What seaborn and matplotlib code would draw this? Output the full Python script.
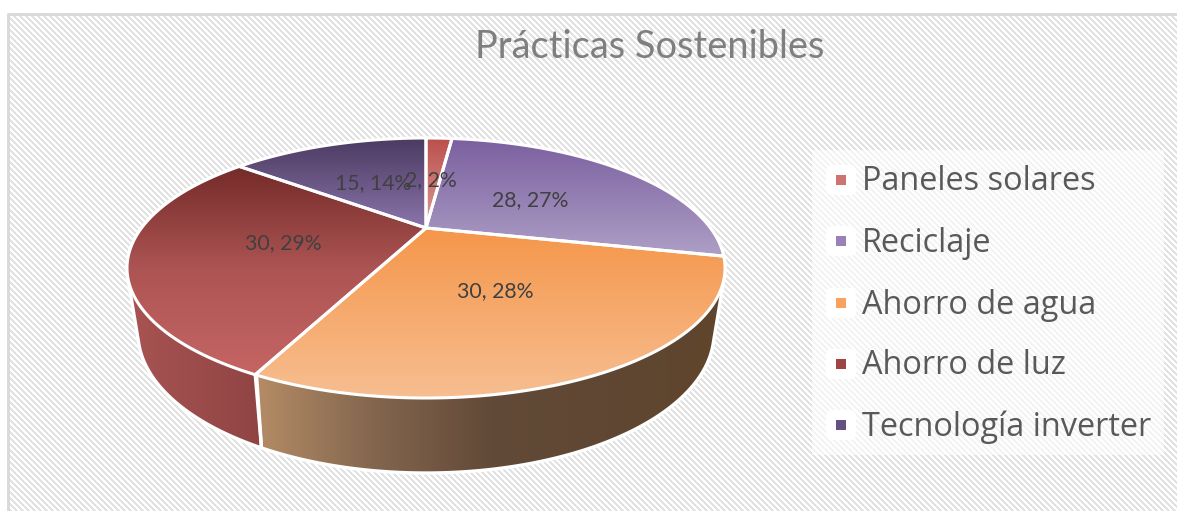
import numpy as np
import matplotlib
matplotlib.use('Agg')
import matplotlib.pyplot as plt
from matplotlib.patches import Polygon, FancyBboxPatch, Rectangle
import seaborn as sns

# Datos del grafico
categorias = ['Paneles solares', 'Reciclaje', 'Ahorro de agua', 'Ahorro de luz', 'Tecnología inverter']
valores = [2, 28, 30, 30, 15]
porcentajes = [2, 27, 28, 29, 14]

# Colores: degradado de la cara superior y de la cara lateral
cara_colores = [('#bb4f4b', '#dc9a97'), ('#7b5f9f', '#ad9fc6'), ('#f5964a', '#f7be91'),
                ('#742b29', '#ad5554', '#c56564'), ('#4a3a60', '#8b74ab')]
lado_colores = [('#a85453', '#a85453'), ('#7b5f9f', '#7b5f9f'), ('#b58c66', '#83664e', '#624a38', '#5f4733', '#60452b'),
                ('#a85453', '#8f4443'), ('#4a3a60', '#4a3a60')]
leyenda_colores = ['#cf7370', '#9a82b8', '#f9a25f', '#9c4544', '#645083']

# Posiciones de las etiquetas (pixeles)
etiqueta_xy = [(431, 180), (530, 200), (495, 291), (283, 243), (373, 183)]
leyenda_y = [180, 241, 303, 364, 425]

W, H = 1177, 511
CX, CY = 426, 228     # vertice del pastel
A, B, K = 117.7, 284.5, -0.3077     # perspectiva de la cara superior


def proyectar(ang):
    # ang en grados, horario desde arriba
    u = np.sin(np.radians(ang))
    v = -np.cos(np.radians(ang))
    den = 1 + K * v
    return CX + B * u / den, CY + A * v / den


def abajo(x, y):
    # borde inferior del cilindro a partir del borde superior
    return 426 + (x - 426) * 288 / 299, 333 + (y - 268) * 140 / 130


def envolvente(pts):
    # envolvente convexa, para que el lateral baje recto desde el borde
    orden = sorted(map(tuple, pts))

    def cadena(puntos):
        c = []
        for p in puntos:
            while len(c) > 1 and ((c[-1][0] - c[-2][0]) * (p[1] - c[-2][1])
                                  - (c[-1][1] - c[-2][1]) * (p[0] - c[-2][0])) <= 0:
                c.pop()
            c.append(p)
        return c[:-1]
    return np.array(cadena(orden) + cadena(orden[::-1]))


sns.set_theme(style='white')
plt.rcParams['font.family'] = ['Lato', 'DejaVu Sans']

fig = plt.figure(figsize=(W / 100, H / 100), dpi=100)
ax = fig.add_axes([0, 0, 1, 1])

# Fondo rayado
yy, xx = np.mgrid[0:H, 0:W]
rayas = ((xx - yy) % 6 < 3).astype(float)
cmap_fondo = sns.blend_palette(['#e2e2e2', '#ffffff'], as_cmap=True)
ax.imshow(rayas, cmap=cmap_fondo, extent=(0, W, H, 0), aspect='auto', interpolation='bilinear', zorder=0)
ax.add_patch(Rectangle((0, 0), W, 13, fc='white', ec='none', zorder=1))
ax.add_patch(Rectangle((0, 0), 7, H, fc='white', ec='none', zorder=1))
ax.plot([8, 8, W], [H, 14, 14], color='#d9d9d9', lw=2, zorder=1)


def degradado(pts, colores, vertical, z):
    # rellena un poligono con un degradado usando una paleta de seaborn
    x0, x1 = pts[:, 0].min(), pts[:, 0].max()
    y0, y1 = pts[:, 1].min(), pts[:, 1].max()
    cmap = sns.blend_palette(list(colores), as_cmap=True)
    g = np.linspace(0, 1, 256)
    g = g[:, None] if vertical else g[None, :]
    im = ax.imshow(g, cmap=cmap, extent=(x0, x1, y1, y0), aspect='auto', vmin=0, vmax=1, zorder=z)
    im.set_clip_path(Polygon(pts, closed=True, transform=ax.transData))


limites = np.cumsum([0] + valores) / sum(valores) * 360

# Caras laterales (solo las que dan al frente)
for i in range(len(valores)):
    medio = (limites[i] + limites[i + 1]) / 2
    if np.cos(np.radians(medio)) >= 0:
        continue
    angs = np.linspace(limites[i], limites[i + 1], 120)
    xs, ys = proyectar(angs)
    xb, yb = abajo(xs, ys)
    pts = envolvente(np.column_stack([np.r_[xs, xb], np.r_[ys, yb]]))
    degradado(pts, lado_colores[i], False, 2)
    ax.plot(np.r_[pts[:, 0], pts[0, 0]], np.r_[pts[:, 1], pts[0, 1]], color='white', lw=2.4, zorder=3)

# Caras superiores
for i in range(len(valores)):
    angs = np.linspace(limites[i], limites[i + 1], 120)
    xs, ys = proyectar(angs)
    pts = np.column_stack([np.r_[CX, xs], np.r_[CY, ys]])
    degradado(pts, cara_colores[i], True, 4)
for i in range(len(valores)):
    angs = np.linspace(limites[i], limites[i + 1], 120)
    xs, ys = proyectar(angs)
    ax.plot(np.r_[CX, xs, CX], np.r_[CY, ys, CY], color='white', lw=2.2, solid_joinstyle='round', zorder=5)

# Etiquetas de datos
for i in range(len(valores)):
    ax.text(etiqueta_xy[i][0], etiqueta_xy[i][1], f'{valores[i]}, {porcentajes[i]}%',
            fontsize=15.3, color='#404040', ha='center', va='center', zorder=6)

ax.text(650, 47, 'Prácticas Sostenibles', fontsize=27.4, color='#7f7f7f', ha='center', va='center', zorder=6)

# Leyenda
ax.add_patch(Rectangle((812, 150), 352, 305, fc='white', ec='none', alpha=0.6, zorder=1))
for i in range(len(categorias)):
    ax.add_patch(FancyBboxPatch((832, leyenda_y[i] - 9), 18, 18, boxstyle='round,pad=6,rounding_size=6',
                                fc='white', ec='none', zorder=2))
    ax.scatter([841], [leyenda_y[i]], marker='s', s=50, color=leyenda_colores[i], linewidths=0, zorder=3)
    ax.text(862, leyenda_y[i] + 2, categorias[i], fontsize=23.4, family=['Open Sans', 'DejaVu Sans'],
            color='#595959', ha='left', va='center', zorder=3)

ax.set_xlim(0, W)
ax.set_ylim(H, 0)
ax.axis('off')
fig.savefig('out.png', dpi=100)
plt.close(fig)
